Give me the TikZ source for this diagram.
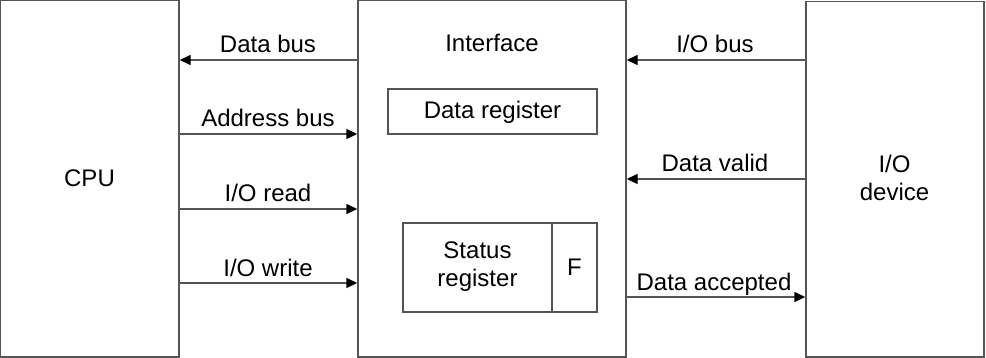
\documentclass[tikz,border=0pt]{standalone}
\usepackage{fontspec}
\setmainfont{Liberation Sans}
\usetikzlibrary{arrows.meta,fit}
\definecolor{edge}{RGB}{85,85,85}
\tikzset{
  box/.style={draw=edge, line width=0.7pt, inner sep=0pt, fill=none},
  lbl/.style={font=\fontsize{12}{14}\selectfont, inner sep=0pt, anchor=base},
  txt/.style={font=\fontsize{12}{14}\selectfont, inner sep=0pt, align=center},
  sig/.style={draw=edge, line width=0.7pt,
    -{Triangle[length=5.5pt,width=5pt,color=black]}},
}
\begin{document}
\begin{tikzpicture}[x=0.5pt,y=-0.5pt]
\useasboundingbox (0,0) rectangle (986,358);

% main blocks
\node[box, fit={(0.7,0.7) (179,357)}] (cpu) {};
\node[box, fit={(358,0.7) (626,357)}] (iface) {};
\node[box, fit={(806,1.5) (984,357)}] (dev) {};

\node[lbl] (cputxt) at (89.5,186) {CPU};
\node[lbl] (ifacetxt) at (492,52) {Interface};
\node[txt] (devtxt) at (894.5,178) {I/O\\device};

% registers inside the interface
\node[box, fit={(388,89) (597,134)}] (dreg) {};
\node[lbl] (dregtxt) at (492.5,119) {Data register};
\node[box, fit={(403,223) (552,312)}] (sreg) {};
\node[box, fit={(552,223) (597,312)}] (flag) {};
\node[txt] (sregtxt) at (477.5,267) {Status\\register};
\node[lbl] (flagtxt) at (574.5,275) {F};

% CPU side signals
\draw[sig] (iface.west |- 0,60) -- (cpu.east |- 0,60);
\node[lbl] (l1) at (268,53) {Data bus};
\draw[sig] (cpu.east |- 0,134) -- (iface.west |- 0,134);
\node[lbl] (l2) at (268,127) {Address bus};
\draw[sig] (cpu.east |- 0,209) -- (iface.west |- 0,209);
\node[lbl] (l3) at (268,202) {I/O read};
\draw[sig] (cpu.east |- 0,283) -- (iface.west |- 0,283);
\node[lbl] (l4) at (268,276) {I/O write};

% device side signals
\draw[sig] (dev.west |- 0,60) -- (iface.east |- 0,60);
\node[lbl] (r1) at (715,53) {I/O bus};
\draw[sig] (dev.west |- 0,179) -- (iface.east |- 0,179);
\node[lbl] (r2) at (715,172) {Data valid};
\draw[sig] (iface.east |- 0,297) -- (dev.west |- 0,297);
\node[lbl] (r3) at (714,290) {Data accepted};
\end{tikzpicture}
\end{document}
